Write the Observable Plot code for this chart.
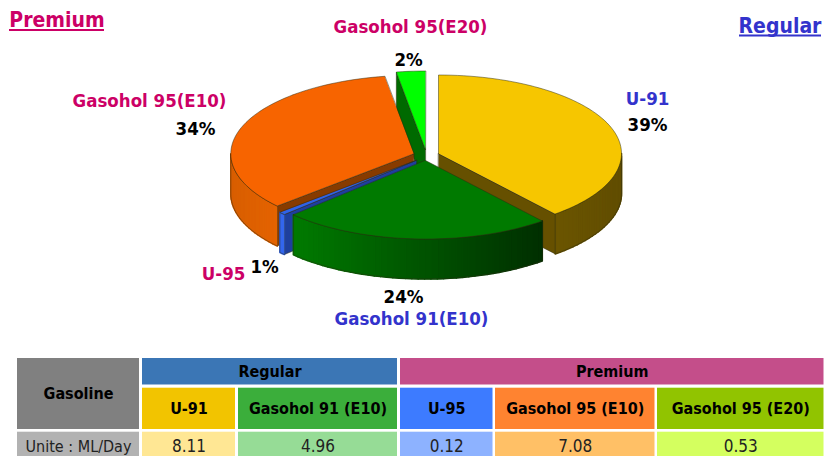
<!DOCTYPE html>
<html>
<head>
<meta charset="utf-8">
<script src="https://cdn.jsdelivr.net/npm/d3@7"></script>
<script src="https://cdn.jsdelivr.net/npm/@observablehq/plot@0.6"></script>
<style>
html,body{margin:0;padding:0;background:#fff;overflow:hidden}
svg{display:block}
</style>
</head>
<body>
<div id="chart"></div>
<script>
// ---- data
const grades = ["U-91", "Gasohol 91 (E10)", "U-95", "Gasohol 95 (E10)", "Gasohol 95 (E20)"];
const pieNames = ["U-91", "Gasohol 91(E10)", "U-95", "Gasohol 95(E10)", "Gasohol 95(E20)"];
const volumes = [8.11, 4.96, 0.12, 7.08, 0.53];
const volumeLabels = ["8.11", "4.96", "0.12", "7.08", "0.53"];
const percentLabels = ["39%", "24%", "1%", "34%", "2%"];
const groups = ["Regular", "Premium"];

// ---- styles and layout
const FONT = "'DejaVu Sans Condensed','DejaVu Sans',sans-serif";
const PINK = "#cc0066", BLUE = "#3333cc";
const pieStyle = [
  {c:[438,153],   top:"#f6c600", wall:["#6b5500","#614d00"], cut:"#665000"},
  {c:[425,160],   top:"#007a00", wall:["#007a00","#002f00"], cut:"#005000"},
  {c:[416,159.7], top:"#2f62e8", wall:["#3366ee","#3366ee"], cut:"#1e3f9e"},
  {c:[413.3,153.3], top:"#f76400", wall:["#d85e00","#e56300"], cut:"#873b00"},
  {c:[425,149],   top:"#00ff00", wall:["#006e00","#006e00"], cut:"#006a00"}
];
const RX = 183, RY = 78.5, DEPTH = 40;
const paintOrder = [4, 0, 3, 2, 1]; // back to front
const pieLabelPos = [
  {nx:647, ny:99,  px:647, py:125, color:BLUE},
  {nx:411, ny:319, px:403, py:297, color:BLUE},
  {nx:223, ny:274, px:264, py:267, color:PINK},
  {nx:149, ny:101, px:195, py:129, color:PINK},
  {nx:410, ny:27,  px:408, py:60,  color:PINK}
];
const colEdges = [[142,235],[238,397],[400,492.5],[495,654.5],[657,823.5]];
const headFill = ["#f2c400","#3bae3b","#3d7bff","#ff8330","#91c400"];
const bodyFill = ["#ffe794","#96dc96","#8db2ff","#ffc066","#d4ff5f"];
const groupEdges = [[142,397],[400,823.5]];
const groupFill = ["#3b76b5","#c44e8a"];
const rowY = {group:[358,384.5], head:[387.7,429], body:[431.7,460]};

// ---- geometry computed from the values
const arcs = d3.pie().sort(null).value(d => d)(volumes);
const pt = (i, a, drop = 0) => {
  const [cx, cy] = pieStyle[i].c;
  return {x: cx + RX * Math.sin(a), y: cy - RY * Math.cos(a) + drop};
};
const arcPts = (i, a0, a1, drop = 0) => {
  const n = Math.max(2, Math.ceil((a1 - a0) / (Math.PI / 90)));
  return d3.range(n + 1).map(k => pt(i, a0 + (a1 - a0) * k / n, drop));
};
const marks = [];
const closed = {x:"x", y:"y", curve:"linear-closed"};
const OUTLINE = {stroke:"#2a2a10", strokeWidth:0.6, strokeOpacity:0.8};

for (const i of paintOrder) {
  const {startAngle:a0, endAngle:a1} = arcs[i], st = pieStyle[i];
  const apex = {x:st.c[0], y:st.c[1]};
  const apexLow = {x:st.c[0], y:st.c[1] + DEPTH};
  // cut faces that look towards the viewer
  const cuts = [];
  if (Math.sin(a0) < -1e-6) cuts.push(a0);
  if (Math.sin(a1) > 1e-6) cuts.push(a1);
  for (const a of cuts) {
    marks.push(Plot.line([apex, pt(i,a), pt(i,a,DEPTH), apexLow],
      {...closed, fill:st.cut, ...OUTLINE}));
  }
  // outer wall, as shaded strips
  const w0 = Math.max(a0, Math.PI / 2), w1 = Math.min(a1, Math.PI * 1.5);
  if (w1 > w0) {
    const top = arcPts(i, w0, w1), low = arcPts(i, w0, w1, DEPTH);
    const xs = d3.extent(top, d => d.x);
    const shade = d3.interpolateRgb(st.wall[0], st.wall[1]);
    const strips = [];
    top.slice(1).forEach((p, k) => {
      const color = shade((((p.x + top[k].x) / 2) - xs[0]) / (xs[1] - xs[0] || 1));
      [top[k], p, low[k + 1], low[k]].forEach(q => strips.push({...q, id:k, color}));
    });
    marks.push(Plot.line(strips, {...closed, z:"id", fill:"color", stroke:"color", strokeWidth:1.6}));
    marks.push(Plot.line([...top, ...low.reverse()], {...closed, fill:"none", ...OUTLINE}));
  }
  // top face
  marks.push(Plot.line([apex, ...arcPts(i, a0, a1)], {...closed, fill:st.top, ...OUTLINE}));
}

// pie labels
const labelRows = pieNames.map((name, i) => ({name, pct:percentLabels[i], ...pieLabelPos[i]}));
marks.push(Plot.text(labelRows, {x:"nx", y:"ny", text:"name", fill:"color",
  fontSize:18.5, fontWeight:"bold", fontFamily:FONT}));
marks.push(Plot.text(labelRows, {x:"px", y:"py", text:"pct", fill:"#000",
  fontSize:18.5, fontWeight:"bold", fontFamily:FONT}));

// corner titles
const titles = [
  {t:groups[1], x:56.5, y:20, u:29.5, x1:9, x2:104, color:PINK},
  {t:groups[0], x:779.5, y:26, u:35, x1:739, x2:821, color:BLUE}
];
marks.push(Plot.ruleY(titles, {y:"u", x1:"x1", x2:"x2", stroke:"color", strokeWidth:2, ariaLabel:"title-rule"}));
marks.push(Plot.text(titles, {x:"x", y:"y", text:"t", fill:"color", fontSize:21, fontWeight:"bold",
  fontFamily:FONT, ariaLabel:"title"}));

// table
const cells = [];
const addCell = (x, y, fill, text, color, bold, size) =>
  cells.push({x1:x[0], x2:x[1], y1:y[0], y2:y[1], fill, text, color, bold, size});
addCell([17,139], [358,429], "#808080", "Gasoline", "#000", true, 16);
addCell([17,139], rowY.body, "#b2b2b2", "Unite : ML/Day", "#222", false, 16);
groups.forEach((g, i) => addCell(groupEdges[i], rowY.group, groupFill[i], g, "#000", true, 16));
grades.forEach((g, i) => {
  addCell(colEdges[i], rowY.head, headFill[i], g, "#000", true, 16);
  addCell(colEdges[i], rowY.body, bodyFill[i], volumeLabels[i], "#222", false, 17);
});
marks.push(Plot.rect(cells, {x1:"x1", x2:"x2", y1:"y1", y2:"y2", fill:"fill", inset:0}));
const cellText = {
  x:d => (d.x1 + d.x2) / 2,
  y:d => d.y2 === rowY.body[1] ? 446 : (d.y1 + d.y2) / 2,
  text:"text", fill:"color", fontSize:"size", fontFamily:FONT
};
marks.push(Plot.text(cells.filter(d => d.bold), {...cellText, fontWeight:"bold"}));
marks.push(Plot.text(cells.filter(d => !d.bold), {...cellText, fontWeight:"normal"}));

const svg = Plot.plot({
  width:824, height:456, margin:0,
  x:{domain:[0,824], range:[0,824], axis:null},
  y:{domain:[0,456], range:[0,456], axis:null},
  color:{type:"identity"},
  style:{background:"#fff", fontFamily:FONT},
  marks
});
for (const label of ["title", "title-rule"]) {
  svg.querySelectorAll(`[aria-label="${label}"]`).forEach(g => {
    g.style.filter = "drop-shadow(1.5px 1.5px 0.5px #bbb)";
  });
}
document.getElementById("chart").append(svg);
</script>
</body>
</html>
